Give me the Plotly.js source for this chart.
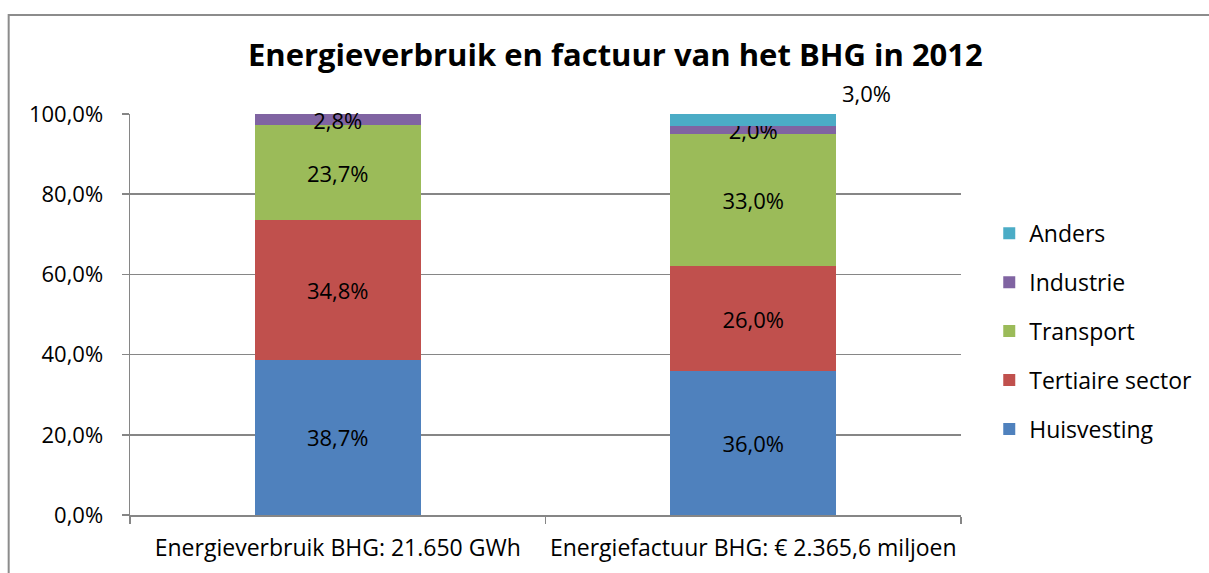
<!DOCTYPE html>
<html>
<head>
<meta charset="utf-8">
<script src="https://cdn.plot.ly/plotly-3.0.1.min.js"></script>
<style>
html,body{margin:0;padding:0;background:#fff;}
#chart{width:1209px;height:573px;}
</style>
</head>
<body>
<div id="chart"></div>
<script>
const categories = ["Energieverbruik BHG: 21.650 GWh", "Energiefactuur BHG: € 2.365,6 miljoen"];
const seriesNames = ["Huisvesting", "Tertiaire sector", "Transport", "Industrie", "Anders"];
const huisvesting = [38.7, 36.0];
const tertiaire = [34.8, 26.0];
const transport = [23.7, 33.0];
const industrie = [2.8, 2.0];
const anders = [0, 3.0];
const colors = ["#4F81BD", "#C0504D", "#9BBB59", "#8064A2", "#4BACC6"];
const yTicks = [0, 20, 40, 60, 80, 100];

const FONT = "Open Sans, sans-serif";
const allSeries = [huisvesting, tertiaire, transport, industrie, anders];

function fmt(v) { return v.toFixed(1).replace('.', ',') + '%'; }

const traces = allSeries.map((vals, i) => {
  const isTop = i === allSeries.length - 1;
  return {
    type: 'bar',
    name: seriesNames[i],
    x: categories,
    y: vals,
    legendgroup: 'g' + i,
    legendrank: allSeries.length - i,
    marker: {color: colors[i], line: {width: 0}},
    width: 0.4,
    text: vals.map(v => (isTop || v === 0) ? '' : fmt(v)),
    textposition: 'inside',
    insidetextanchor: 'middle',
    constraintext: 'none',
    textfont: {family: FONT, size: 22, color: '#000'},
    cliponaxis: false,
    hoverinfo: 'none'
  };
});

// label for the top (Anders) segment drawn above the bar
const annotations = [];
anders.forEach((v, j) => {
  if (v > 0) {
    const total = allSeries.reduce((s, arr) => s + arr[j], 0);
    annotations.push({
      x: categories[j], y: total, xref: 'x', yref: 'y',
      text: fmt(v), showarrow: false,
      xshift: 113, yshift: 21,
      font: {family: FONT, size: 22, color: '#000'}
    });
  }
});

const layout = {
  width: 1209, height: 573,
  margin: {l: 130, r: 244, t: 114, b: 58},
  paper_bgcolor: '#fff', plot_bgcolor: '#fff',
  barmode: 'stack',
  separators: ',.',
  title: {
    text: 'Energieverbruik en factuur van het BHG in 2012',
    font: {family: FONT, size: 31, color: '#000', weight: 'bold'},
    x: 0.509, xanchor: 'center', y: 0.903, yanchor: 'middle',
    xref: 'container', yref: 'container'
  },
  xaxis: {
    type: 'category',
    showline: true, linecolor: '#868686', linewidth: 1.5,
    ticks: 'outside', tickson: 'boundaries', ticklen: 7, tickcolor: '#868686', tickwidth: 1.5,
    ticklabelstandoff: 12,
    tickangle: 0,
    tickfont: {family: FONT, size: 23, color: '#000'},
    showgrid: false, zeroline: false, fixedrange: true
  },
  yaxis: {
    range: [0, 100],
    tickmode: 'array',
    tickvals: yTicks,
    ticktext: yTicks.map(fmt),
    showline: true, linecolor: '#868686', linewidth: 1.5,
    ticks: 'outside', ticklen: 7, tickcolor: '#868686', tickwidth: 1.5,
    ticklabelstandoff: 14,
    showgrid: true, gridcolor: '#868686', gridwidth: 1.5,
    zeroline: false,
    tickfont: {family: FONT, size: 22, color: '#000'},
    fixedrange: true
  },
  legend: {
    x: 1.034, xanchor: 'left', y: 0.756, yanchor: 'top',
    traceorder: 'grouped',
    tracegroupgap: 16,
    font: {family: FONT, size: 23, color: '#000'},
    itemwidth: 30, bgcolor: 'rgba(0,0,0,0)'
  },
  annotations: annotations,
  shapes: [{
    type: 'rect', xref: 'paper', yref: 'paper',
    x0: -0.146, x1: 1.6, y0: -0.5, y1: 1.247,
    line: {color: '#8c8c8c', width: 2}, fillcolor: 'rgba(0,0,0,0)', layer: 'below'
  }],
  bargap: 0.6
};

Plotly.newPlot('chart', traces, layout, {displayModeBar: false, staticPlot: true});
</script>
</body>
</html>
